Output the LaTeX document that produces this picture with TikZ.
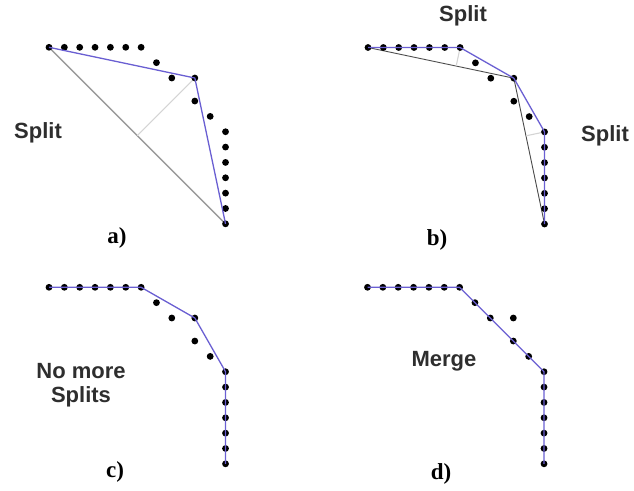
\documentclass[tikz,border=0pt]{standalone}
\usepackage{fontspec}
\setmainfont{Liberation Serif}
\setsansfont{Liberation Sans}
\usetikzlibrary{calc}
\definecolor{sblue}{HTML}{6A5FD2}
\definecolor{sgray}{HTML}{9A9A9A}
\definecolor{slight}{HTML}{D4D4D4}
\definecolor{sdark}{HTML}{4A4A4A}
\definecolor{stext}{HTML}{2E2E2E}
\tikzset{
  fitline/.style={sblue, line width=1.3pt, line join=round},
  chord/.style={sgray, line width=1.4pt},
  oldchord/.style={sdark, line width=0.9pt},
  perp/.style={slight, line width=1.1pt},
  stepword/.style={font=\sffamily\bfseries\fontsize{22}{24}\selectfont, text=stext,
                   inner sep=0pt, align=center},
  panel/.style={font=\bfseries\fontsize{23}{25}\selectfont, inner sep=0pt},
}

\begin{document}
\begin{tikzpicture}[x=1pt, y=-1pt]
  \useasboundingbox (0,0) rectangle (634,490);

  %% Sample points of the curve, one copy per panel
  \foreach \p/\ox/\oy in {a/49/47.3, b/368/47.5, c/49/287.3, d/367.5/287.3}{
    \foreach \i/\u/\v in {0/0/0, 1/1/0, 2/2/0, 3/3/0, 4/4/0, 5/5/0, 6/6/0,
                          7/7/1, 8/8/2, 9/9.5/2, 10/9.5/3.5, 11/10.5/4.5,
                          12/11.5/5.5, 13/11.5/6.5, 14/11.5/7.5, 15/11.5/8.5,
                          16/11.5/9.5, 17/11.5/10.5, 18/11.5/11.5}{
      \coordinate (\p\i) at ({\ox+\u*15.35},{\oy+\v*15.35});
    }
  }

  %% a) first split
  \draw[chord] (a0) -- (a18);
  \draw[perp] (a9) -- ($(a0)!(a9)!(a18)$);

  %% b) two more splits
  \draw[oldchord] (b0) -- (b9) -- (b18);
  \draw[perp] (b6) -- ($(b0)!(b6)!(b9)$);
  \draw[perp] (b12) -- ($(b9)!(b12)!(b18)$);

  %% Dots
  \foreach \p in {a,b,c,d}{
    \foreach \i in {0,...,18}{
      \fill (\p\i) circle (3.4pt);
    }
  }

  %% Fitted polylines
  \draw[fitline] (a0) -- (a9) -- (a18);
  \draw[fitline] (b0) -- (b6) -- (b9) -- (b12) -- (b18);
  \draw[fitline] (c0) -- (c6) -- (c9) -- (c12) -- (c18);
  \draw[fitline] (d0) -- (d6) -- (d12) -- (d18);

  %% Labels
  \node[stepword] (splitA) at (38,133) {Split};
  \node[stepword] (splitB1) at (463,16) {Split};
  \node[stepword] (splitB2) at (605,136) {Split};
  \node[stepword] (nomore) at (81,385) {No more\\Splits};
  \node[stepword] (merge) at (444,361) {Merge};

  \node[panel] (tagA) at (117,238) {a)};
  \node[panel] (tagB) at (437,240) {b)};
  \node[panel] (tagC) at (115,472) {c)};
  \node[panel] (tagD) at (441,474) {d)};

\end{tikzpicture}
\end{document}
